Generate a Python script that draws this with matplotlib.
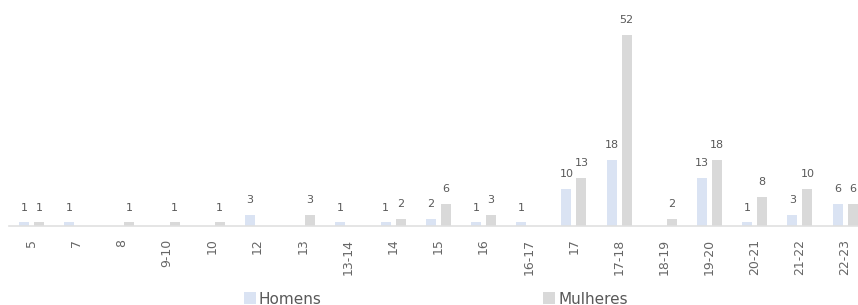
"""
Bar chart: Homens vs Mulheres by age group.
"""
import matplotlib
matplotlib.use("Agg")
import matplotlib.pyplot as plt
import numpy as np

categories = ["5", "7", "8", "9-10", "10", "12", "13", "13-14", "14", "15", "16",
              "16-17", "17", "17-18", "18-19", "19-20", "20-21", "21-22", "22-23"]
homens = [1, 1, 0, 0, 0, 3, 0, 1, 1, 2, 1, 1, 10, 18, 0, 13, 1, 3, 6]
mulheres = [1, 0, 1, 1, 1, 0, 3, 0, 2, 6, 3, 0, 13, 52, 2, 18, 8, 10, 6]

COL_H = "#dae3f3"
COL_M = "#d9d9d9"
TXT = "#595959"

plt.rcParams["font.family"] = ["DejaVu Sans"]

fig = plt.figure(figsize=(8.58, 3.05), dpi=100)
ax = fig.add_axes([0, 0.259, 1, 0.741])

x = np.arange(len(categories))
w = 0.22
off = 0.165
bh = ax.bar(x - off, homens, w, color=COL_H, label="Homens")
bm = ax.bar(x + off, mulheres, w, color=COL_M, label="Mulheres")

# zero-valued bars get no label
for bars, vals in ((bh, homens), (bm, mulheres)):
    labels = [str(v) if v else "" for v in vals]
    ax.bar_label(bars, labels=labels, padding=7, fontsize=8, color=TXT)

# pixel mapping: first category centre at 31.5px, step 45.2px
ax.set_xlim(-31.5 / 45.2, (858 - 31.5) / 45.2)
ax.set_ylim(0, 61.4)

ax.set_xticks(x)
ax.set_xticklabels(categories, rotation=90, fontsize=9, color="#666666")
ax.tick_params(axis="x", length=0, pad=9)
ax.set_yticks([])
for s in ("top", "right", "left"):
    ax.spines[s].set_visible(False)
ax.spines["bottom"].set_color("#e0e0e0")
ax.spines["bottom"].set_linewidth(1.2)
ax.spines["bottom"].set_bounds(-0.5, x[-1] + 0.5)
ax.patch.set_alpha(0)

fig.legend(loc="lower center", bbox_to_anchor=(0.508, -0.05), ncol=2, frameon=False,
           fontsize=11, labelcolor=TXT, handlelength=0.8, handleheight=0.8,
           handletextpad=0.2, columnspacing=14.5)

fig.savefig("out.png", dpi=100)
